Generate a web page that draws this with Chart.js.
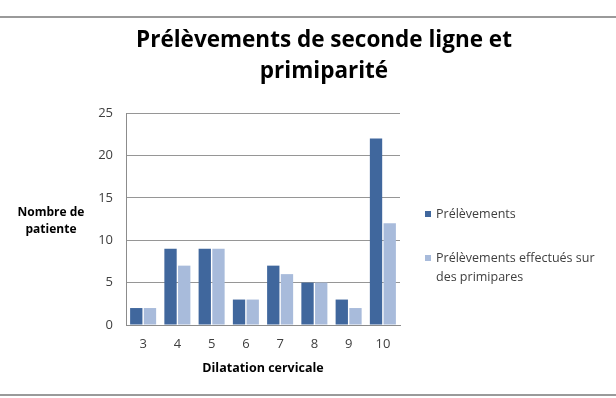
<!DOCTYPE html>
<html>
<head>
<meta charset="utf-8">
<script src="https://cdn.jsdelivr.net/npm/chart.js@4"></script>
<style>
html,body{margin:0;padding:0;background:#fff;}
#wrap{position:relative;width:616px;height:398px;}
canvas{display:block;}
</style>
</head>
<body>
<div id="wrap"><canvas id="c" width="616" height="398"></canvas></div>
<script>
const categories = ['3','4','5','6','7','8','9','10'];
const prelevements = [2, 9, 9, 3, 7, 5, 3, 22];
const primipares = [2, 7, 9, 3, 6, 5, 2, 12];
const seriesNames = ['Prélèvements', 'Prélèvements effectués sur des primipares'];
const legendLines2 = ['Prélèvements effectués sur', 'des primipares'];
const titleLines = ['Prélèvements de seconde ligne et', 'primiparité'];
const yTitleLines = ['Nombre de', 'patiente'];
const xTitle = 'Dilatation cervicale';
const yTicks = [0, 5, 10, 15, 20, 25];

const DARK = '#40679d';
const LIGHT = '#a8bbdb';
const FONT = '"Open Sans", "Liberation Sans", sans-serif';

const decor = {
  id: 'decor',
  afterDraw(chart) {
    const ctx = chart.ctx;
    const ca = chart.chartArea;
    ctx.save();
    ctx.strokeStyle = '#9a9a9a';
    ctx.lineWidth = 2;
    ctx.beginPath(); ctx.moveTo(0, 17); ctx.lineTo(616, 17); ctx.stroke();
    ctx.beginPath(); ctx.moveTo(0, 395); ctx.lineTo(616, 395); ctx.stroke();
    ctx.fillStyle = '#000';
    ctx.textAlign = 'center';
    ctx.textBaseline = 'middle';
    ctx.font = 'bold 22.5px ' + FONT;
    ctx.fillText(titleLines[0], 324, 41);
    ctx.fillText(titleLines[1], 324, 72);
    ctx.font = 'bold 12px ' + FONT;
    ctx.fillText(yTitleLines[0], 51, 213);
    ctx.fillText(yTitleLines[1], 51, 230);
    ctx.font = 'bold 12.5px ' + FONT;
    ctx.fillText(xTitle, 263, 368);
    ctx.textAlign = 'left';
    ctx.font = '12.5px ' + FONT;
    ctx.fillStyle = DARK;
    ctx.fillRect(425, 211, 6, 6);
    ctx.fillStyle = LIGHT;
    ctx.fillRect(425, 255, 6, 6);
    ctx.fillStyle = '#404040';
    ctx.fillText(seriesNames[0], 436, 214);
    ctx.fillText(legendLines2[0], 436, 258);
    ctx.fillText(legendLines2[1], 436, 277);
    ctx.restore();
  }
};

new Chart(document.getElementById('c'), {
  type: 'bar',
  data: {
    labels: categories,
    datasets: [
      { label: seriesNames[0], data: prelevements, backgroundColor: DARK, borderWidth: 0 },
      { label: seriesNames[1], data: primipares, backgroundColor: LIGHT, borderWidth: 0 }
    ]
  },
  options: {
    responsive: false,
    animation: false,
    devicePixelRatio: 1,
    layout: { padding: { left: 0, right: 216, top: 113, bottom: 0 } },
    plugins: { legend: { display: false }, title: { display: false }, tooltip: { enabled: false } },
    datasets: { bar: { categoryPercentage: 0.8, barPercentage: 0.9 } },
    scales: {
      x: {
        grid: { display: false, drawTicks: false },
        border: { display: true, color: '#8c8c8c', width: 1 },
        ticks: { color: '#404040', font: { family: FONT, size: 13 }, padding: 11 },
        afterFit(s) { s.height = 73; }
      },
      y: {
        min: 0, max: 25,
        afterBuildTicks(s) { s.ticks = yTicks.map(v => ({ value: v })); },
        grid: { color: '#969696', drawTicks: false },
        border: { display: true, color: '#8c8c8c', width: 1 },
        ticks: { color: '#404040', font: { family: FONT, size: 13 }, padding: 13 },
        afterFit(s) { s.width = 126; }
      }
    }
  },
  plugins: [decor]
});
</script>
</body>
</html>
